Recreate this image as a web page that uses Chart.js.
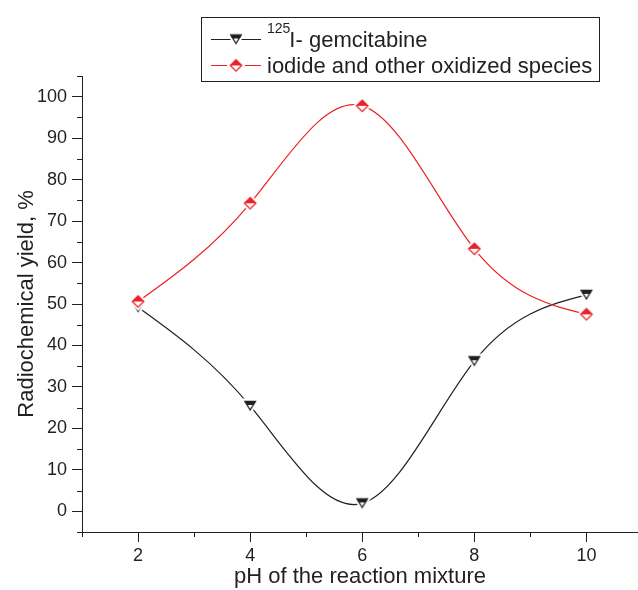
<!DOCTYPE html>
<html>
<head>
<meta charset="utf-8">
<script src="https://cdn.jsdelivr.net/npm/chart.js@4.4.0/dist/chart.umd.min.js"></script>
<style>
  html, body { margin: 0; padding: 0; background: #fff; overflow: hidden; }
  #wrap { width: 638px; height: 590px; position: relative; }
</style>
</head>
<body>
<div id="wrap"><canvas id="chart" width="638" height="590"></canvas></div>
<script>
// pH of the reaction mixture (x values)
const phValues = [2, 4, 6, 8, 10];
// Radiochemical yield, % for each series
const gemcitabineYield = [49.2, 25.4, 1.9, 36.2, 52.2];
const iodideYield = [50.6, 74.3, 97.8, 63.3, 47.5];

// Axis ticks
const xTicks = [2, 4, 6, 8, 10];
const xMinorTicks = [1, 3, 5, 7, 9, 11];
const yTicks = [0, 10, 20, 30, 40, 50, 60, 70, 80, 90, 100];
const yMinorTicks = [-5, 5, 15, 25, 35, 45, 55, 65, 75, 85, 95, 105];

const inkColor = '#231f20';
const redColor = '#ec2227';
const fontFamily = '"Liberation Sans", Arial, Helvetica, sans-serif';

// Half-filled marker drawn onto a small canvas (with white halo so the line stops short)
function makeMarker(kind, color) {
    const size = 24;
    const c = document.createElement('canvas');
    c.width = size;
    c.height = size;
    const g = c.getContext('2d');
    const m = size / 2;

    if (kind === 'diamond') {
        const h = 6.3;
        const diamond = (r) => {
            g.beginPath();
            g.moveTo(m, m - r);
            g.lineTo(m + r, m);
            g.lineTo(m, m + r);
            g.lineTo(m - r, m);
            g.closePath();
        };
        diamond(h + 3);
        g.fillStyle = '#fff';
        g.fill();
        // top half filled
        g.beginPath();
        g.moveTo(m, m - h);
        g.lineTo(m + h, m);
        g.lineTo(m - h, m);
        g.closePath();
        g.fillStyle = color;
        g.fill();
        diamond(h - 0.6);
        g.strokeStyle = color;
        g.lineWidth = 1.3;
        g.stroke();
    } else {
        // triangle pointing down
        const w = 6, ht = 10;
        const top = m - ht / 2, bot = m + ht / 2;
        const tri = (pad) => {
            g.beginPath();
            g.moveTo(m - w - pad * 1.6, top - pad);
            g.lineTo(m + w + pad * 1.6, top - pad);
            g.lineTo(m, bot + pad * 1.8);
            g.closePath();
        };
        tri(2.5);
        g.fillStyle = '#fff';
        g.fill();
        const band = 4;
        const k = 1 - band / ht;
        g.beginPath();
        g.moveTo(m - w, top);
        g.lineTo(m + w, top);
        g.lineTo(m + w * k, top + band);
        g.lineTo(m - w * k, top + band);
        g.closePath();
        g.fillStyle = color;
        g.fill();
        tri(-0.5);
        g.strokeStyle = color;
        g.lineWidth = 1.3;
        g.stroke();
    }
    return c;
}

const triMarker = makeMarker('triangle', inkColor);
const diaMarker = makeMarker('diamond', redColor);

// Natural cubic spline connection (like the original plotting program):
// replaces Chart.js bezier control points with ones derived from the spline slopes
const naturalSplinePlugin = {
    id: 'naturalSpline',
    beforeDatasetDraw(chart, args) {
        const meta = args.meta;
        const pts = meta.data;
        const n = pts.length;
        if (n < 3) return;
        meta.dataset.updateControlPoints(chart.chartArea, meta.iScale.axis);

        const xs = pts.map(p => p.x);
        const ys = pts.map(p => p.y);
        const h = [];
        for (let i = 0; i < n - 1; i++) h.push(xs[i + 1] - xs[i]);

        // second derivatives, natural ends (tridiagonal solve)
        const M = new Array(n).fill(0);
        const a = [], b = [], c = [], d = [];
        for (let i = 1; i < n - 1; i++) {
            a.push(h[i - 1]);
            b.push(2 * (h[i - 1] + h[i]));
            c.push(h[i]);
            d.push(6 * ((ys[i + 1] - ys[i]) / h[i] - (ys[i] - ys[i - 1]) / h[i - 1]));
        }
        const m = b.length;
        for (let i = 1; i < m; i++) {
            const w = a[i] / b[i - 1];
            b[i] -= w * c[i - 1];
            d[i] -= w * d[i - 1];
        }
        const sol = new Array(m);
        sol[m - 1] = d[m - 1] / b[m - 1];
        for (let i = m - 2; i >= 0; i--) sol[i] = (d[i] - c[i] * sol[i + 1]) / b[i];
        for (let i = 0; i < m; i++) M[i + 1] = sol[i];

        // slope at every knot
        const s = new Array(n);
        for (let i = 0; i < n - 1; i++) {
            s[i] = (ys[i + 1] - ys[i]) / h[i] - h[i] * (2 * M[i] + M[i + 1]) / 6;
        }
        s[n - 1] = (ys[n - 1] - ys[n - 2]) / h[n - 2] + h[n - 2] * (M[n - 2] + 2 * M[n - 1]) / 6;

        pts.forEach((p, i) => {
            const hl = i > 0 ? h[i - 1] / 3 : 0;
            const hr = i < n - 1 ? h[i] / 3 : 0;
            p.cp1x = xs[i] - hl;
            p.cp1y = ys[i] - hl * s[i];
            p.cp2x = xs[i] + hr;
            p.cp2y = ys[i] + hr * s[i];
        });
        meta.dataset._path = undefined;
    }
};

// Minor ticks drawn through the chart scales
const minorTicksPlugin = {
    id: 'minorTicks',
    afterDraw(chart) {
        const {ctx, chartArea, scales} = chart;
        ctx.save();
        ctx.strokeStyle = inkColor;
        ctx.lineWidth = 1;
        xMinorTicks.forEach(v => {
            const px = Math.round(scales.x.getPixelForValue(v)) + 0.5;
            if (px < chartArea.left - 1 || px > chartArea.right + 1) return;
            ctx.beginPath();
            ctx.moveTo(px, chartArea.bottom);
            ctx.lineTo(px, chartArea.bottom + 5);
            ctx.stroke();
        });
        yMinorTicks.forEach(v => {
            const py = Math.round(scales.y.getPixelForValue(v)) + 0.5;
            ctx.beginPath();
            ctx.moveTo(chartArea.left - 5, py);
            ctx.lineTo(chartArea.left, py);
            ctx.stroke();
        });
        ctx.restore();
    }
};

// Framed legend with superscript mass number
const legendEntries = [
    {sup: '125', text: 'I- gemcitabine', color: inkColor, marker: triMarker},
    {sup: '', text: 'iodide and other oxidized species', color: redColor, marker: diaMarker}
];

const boxLegendPlugin = {
    id: 'boxLegend',
    afterDraw(chart) {
        const ctx = chart.ctx;
        ctx.save();
        ctx.fillStyle = '#fff';
        ctx.fillRect(201.5, 17.5, 398, 64);
        ctx.strokeStyle = inkColor;
        ctx.lineWidth = 1;
        ctx.strokeRect(201.5, 17.5, 398, 64);

        legendEntries.forEach((e, i) => {
            const cy = 39 + i * 26;
            ctx.strokeStyle = e.color;
            ctx.lineWidth = 1.2;
            ctx.beginPath();
            ctx.moveTo(211, cy + 0.5);
            ctx.lineTo(261, cy + 0.5);
            ctx.stroke();
            ctx.drawImage(e.marker, 236 - e.marker.width / 2, cy - e.marker.height / 2 + 0.5);

            ctx.fillStyle = inkColor;
            ctx.textBaseline = 'alphabetic';
            let x = 267;
            if (e.sup) {
                ctx.font = '14px ' + fontFamily;
                ctx.fillText(e.sup, x, cy - 6);
                x += ctx.measureText(e.sup).width - 1;
            }
            ctx.font = '22px ' + fontFamily;
            ctx.fillText(e.text, x, cy + 7.5);
        });
        ctx.restore();
    }
};

const ctx = document.getElementById('chart').getContext('2d');

new Chart(ctx, {
    type: 'line',
    data: {
        datasets: [
            {
                label: '125I- gemcitabine',
                data: phValues.map((x, i) => ({x: x, y: gemcitabineYield[i]})),
                borderColor: inkColor,
                borderWidth: 1.2,
                tension: 0.4,
                pointStyle: triMarker,
                order: 1
            },
            {
                label: 'iodide and other oxidized species',
                data: phValues.map((x, i) => ({x: x, y: iodideYield[i]})),
                borderColor: redColor,
                borderWidth: 1.2,
                tension: 0.4,
                pointStyle: diaMarker,
                order: 0
            }
        ]
    },
    options: {
        responsive: false,
        animation: false,
        layout: {
            autoPadding: false,
            padding: {top: 76, right: 0, bottom: 0, left: 0}
        },
        plugins: {
            legend: {display: false},
            tooltip: {enabled: false}
        },
        scales: {
            x: {
                type: 'linear',
                min: 1,
                max: 10.92,
                afterBuildTicks(scale) {
                    scale.ticks = xTicks.map(v => ({value: v}));
                },
                afterFit(scale) {
                    scale.height = 58;
                    scale.paddingLeft = 0;
                    scale.paddingRight = 0;
                },
                border: {color: inkColor, width: 1},
                grid: {
                    drawOnChartArea: false,
                    tickLength: 10,
                    tickColor: inkColor,
                    tickWidth: 1
                },
                ticks: {
                    color: inkColor,
                    font: {family: fontFamily, size: 18},
                    padding: 3,
                    maxRotation: 0
                },
                title: {
                    display: true,
                    text: 'pH of the reaction mixture',
                    color: inkColor,
                    font: {family: fontFamily, size: 22},
                    padding: {top: 0, bottom: 0}
                }
            },
            y: {
                type: 'linear',
                min: -5,
                max: 105,
                afterBuildTicks(scale) {
                    scale.ticks = yTicks.map(v => ({value: v}));
                },
                afterFit(scale) {
                    scale.width = 82;
                    scale.paddingTop = 0;
                    scale.paddingBottom = 0;
                },
                border: {color: inkColor, width: 1},
                grid: {
                    drawOnChartArea: false,
                    tickLength: 10,
                    tickColor: inkColor,
                    tickWidth: 1
                },
                ticks: {
                    color: inkColor,
                    font: {family: fontFamily, size: 18},
                    padding: 5
                },
                title: {
                    display: true,
                    text: 'Radiochemical yield, %',
                    color: inkColor,
                    font: {family: fontFamily, size: 22},
                    padding: {top: 14, bottom: 0}
                }
            }
        }
    },
    plugins: [naturalSplinePlugin, minorTicksPlugin, boxLegendPlugin]
});
</script>
</body>
</html>
